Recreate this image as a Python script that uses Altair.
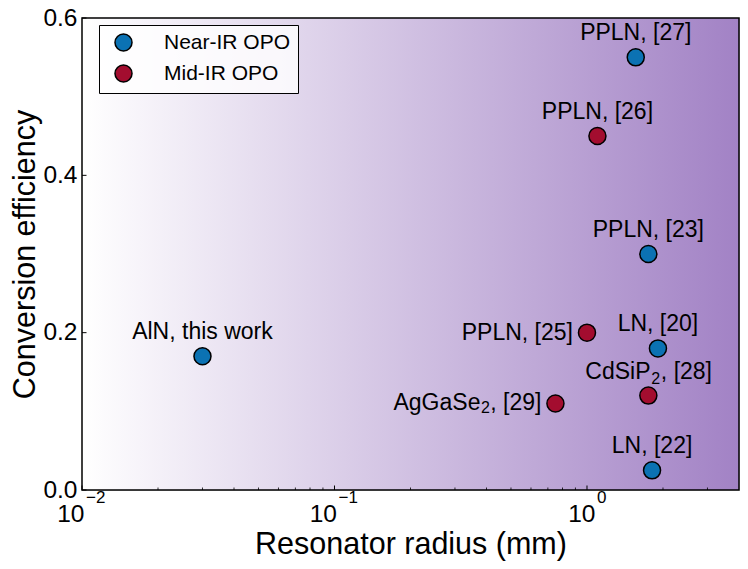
import altair as alt
import pandas as pd

# ---- data ----
names = ["AlN, this work", "PPLN, [27]", "PPLN, [26]", "PPLN, [23]", "PPLN, [25]",
         "LN, [20]", "CdSiP₂, [28]", "AgGaSe₂, [29]", "LN, [22]"]
radius_mm = [0.030, 1.56, 1.10, 1.75, 1.00, 1.91, 1.75, 0.75, 1.81]
efficiency = [0.17, 0.55, 0.45, 0.30, 0.20, 0.18, 0.12, 0.11, 0.025]
kind = ["Near-IR OPO", "Near-IR OPO", "Mid-IR OPO", "Near-IR OPO", "Mid-IR OPO",
        "Near-IR OPO", "Mid-IR OPO", "Mid-IR OPO", "Near-IR OPO"]
kinds = ["Near-IR OPO", "Mid-IR OPO"]
kind_colors = ["#0b72b3", "#a30d2f"]

# labels with a subscript, split into (before, subscript, after)
label_pre = {"CdSiP₂, [28]": "CdSiP", "AgGaSe₂, [29]": "AgGaSe"}
label_sub = {"CdSiP₂, [28]": "2", "AgGaSe₂, [29]": "2"}
label_post = {"CdSiP₂, [28]": ", [28]", "AgGaSe₂, [29]": ", [29]"}

x_major = [0.01, 0.1, 1]
x_exponents = ["−2", "−1", "0"]
x_minor = [m * d for d in (0.01, 0.1) for m in range(2, 10)] + [2, 3]
y_ticks = [0.0, 0.2, 0.4, 0.6]

left_side_labels = ["PPLN, [25]", "AgGaSe₂, [29]"]

df = pd.DataFrame({"name": names, "r": radius_mm, "eff": efficiency, "kind": kind})
df["pre"] = df["name"].map(label_pre).fillna("")
df["sub"] = df["name"].map(label_sub).fillna("")
df["post"] = df["name"].map(label_post).fillna("")
df_major = pd.DataFrame({"r": x_major, "exp": x_exponents})
df_minor = pd.DataFrame({"r": x_minor})
df_y = pd.DataFrame({"eff": y_ticks})

W, H = 657, 472
FONT = "Liberation Sans"

xscale = alt.Scale(type="log", domain=[0.01, 4], nice=False)
yscale = alt.Scale(domain=[0, 0.6], nice=False, zero=False)

x_axis = alt.Axis(
    values=x_major, labelExpr="'10'", title="Resonator radius (mm)",
    labelFont=FONT, labelFontSize=24.5, labelColor="black",
    labelAlign="right", labelBaseline="alphabetic",
    labelOffset=alt.condition("datum.value >= 1", alt.value(8), alt.value(2)),
    labelPadding=31, labelFlush=False, labelOverlap=False, labelBound=False,
    ticks=False, tickSize=0, domain=False, grid=False,
    titleFont=FONT, titleFontSize=30.5, titleFontWeight="normal", titleColor="black",
    titleBaseline="alphabetic", titleY=63,
)
y_axis = alt.Axis(
    values=y_ticks, format=".1f", title="Conversion efficiency",
    labelFont=FONT, labelFontSize=24.5, labelColor="black", labelPadding=5,
    labelFlush=False, labelOverlap=False,
    ticks=False, tickSize=0, domain=False, grid=False,
    titleFont=FONT, titleFontSize=30.5, titleFontWeight="normal", titleColor="black",
    titleBaseline="alphabetic", titleX=-48,
)


def X():
    return alt.X("r:Q", scale=xscale, axis=x_axis)


def Y():
    return alt.Y("eff:Q", scale=yscale, axis=y_axis)


bg = alt.Chart(pd.DataFrame({"a": [0]})).mark_rect(
    color=alt.Gradient(
        gradient="linear",
        stops=[alt.GradientStop(color="#ffffff", offset=0),
               alt.GradientStop(color="#a282c5", offset=1)],
        x1=0, x2=1, y1=0, y2=0,
    )
).encode(x=alt.value(0), x2=alt.value(W), y=alt.value(0), y2=alt.value(H))

points = alt.Chart(df).mark_circle(
    size=290, stroke="black", strokeWidth=1.5, opacity=1
).encode(
    x=X(),
    y=Y(),
    color=alt.Color(
        "kind:N",
        scale=alt.Scale(domain=kinds, range=kind_colors),
        sort=kinds,
        legend=alt.Legend(
            title=None, orient="none", legendX=17, legendY=7,
            labelFont=FONT, labelFontSize=21, labelColor="black",
            symbolType="circle", symbolSize=290, symbolStrokeColor="black",
            symbolStrokeWidth=1.5, symbolOpacity=1, symbolOffset=7,
            labelOffset=30, rowPadding=6, padding=7,
            fillColor="rgba(255,255,255,0.8)", strokeColor="black",
            cornerRadius=0,
        ),
    ),
)

plain_above = "datum.sub == '' && indexof(%s, datum.name) < 0" % str(left_side_labels).replace('"', "'")
plain_left = "datum.sub == '' && indexof(%s, datum.name) >= 0" % str(left_side_labels).replace('"', "'")
sub_above = "datum.sub != '' && indexof(%s, datum.name) < 0" % str(left_side_labels).replace('"', "'")
sub_left = "datum.sub != '' && indexof(%s, datum.name) >= 0" % str(left_side_labels).replace('"', "'")


def text_layer(cond, field, size=23, **kw):
    return alt.Chart(df).transform_filter(cond).mark_text(
        font=FONT, fontSize=size, color="black", **kw
    ).encode(x=X(), y=Y(), text=f"{field}:N")


labels_above = text_layer(plain_above, "name", align="center", baseline="alphabetic", dy=-17)
labels_left = text_layer(plain_left, "name", align="right", baseline="middle", dx=-14)

# CdSiP2 (centred above its point)
cd_pre = text_layer(sub_above, "pre", align="left", baseline="alphabetic", dx=-63, dy=-17)
cd_sub = text_layer(sub_above, "sub", size=16, align="left", baseline="alphabetic", dx=3, dy=-12)
cd_post = text_layer(sub_above, "post", align="left", baseline="alphabetic", dx=12.5, dy=-17)
# AgGaSe2 (to the left of its point)
ag_post = text_layer(sub_left, "post", align="right", baseline="middle", dx=-14)
ag_sub = text_layer(sub_left, "sub", size=16, align="right", baseline="middle", dx=-65.5, dy=5)
ag_pre = text_layer(sub_left, "pre", align="right", baseline="middle", dx=-75)

major_ticks = alt.Chart(df_major).mark_rule(color="black", strokeWidth=1).encode(
    x=X(), y=alt.value(H), y2=alt.value(H - 4.5),
)
minor_ticks = alt.Chart(df_minor).mark_rule(color="black", strokeWidth=0.8).encode(
    x=X(), y=alt.value(H), y2=alt.value(H - 2.5),
)
y_tick_marks = alt.Chart(df_y).mark_rule(color="black", strokeWidth=1).encode(
    y=Y(), x=alt.value(0), x2=alt.value(4.5),
)

exp_neg = alt.Chart(df_major).transform_filter("datum.r < 1").mark_text(
    font=FONT, fontSize=17, color="black", align="left", baseline="alphabetic", dx=4
).encode(x=X(), y=alt.value(H + 13), text="exp:N")
exp_zero = alt.Chart(df_major).transform_filter("datum.r >= 1").mark_text(
    font=FONT, fontSize=17, color="black", align="left", baseline="alphabetic", dx=10
).encode(x=X(), y=alt.value(H + 13), text="exp:N")

frame = alt.Chart(pd.DataFrame({"a": [0]})).mark_rect(
    filled=False, stroke="black", strokeWidth=1.5
).encode(x=alt.value(0), x2=alt.value(W), y=alt.value(0), y2=alt.value(H))

chart = alt.layer(
    bg, minor_ticks, major_ticks, y_tick_marks, labels_above, labels_left,
    cd_pre, cd_sub, cd_post, ag_pre, ag_sub, ag_post,
    points, exp_neg, exp_zero, frame
).properties(
    width=W, height=H,
    autosize=alt.AutoSizeParams(type="none"),
    padding={"left": 74, "top": 10, "right": 1, "bottom": 77},
).configure_view(stroke=None).configure(background="white")

chart.save("out.html", embed_options={"renderer": "svg", "actions": False})
